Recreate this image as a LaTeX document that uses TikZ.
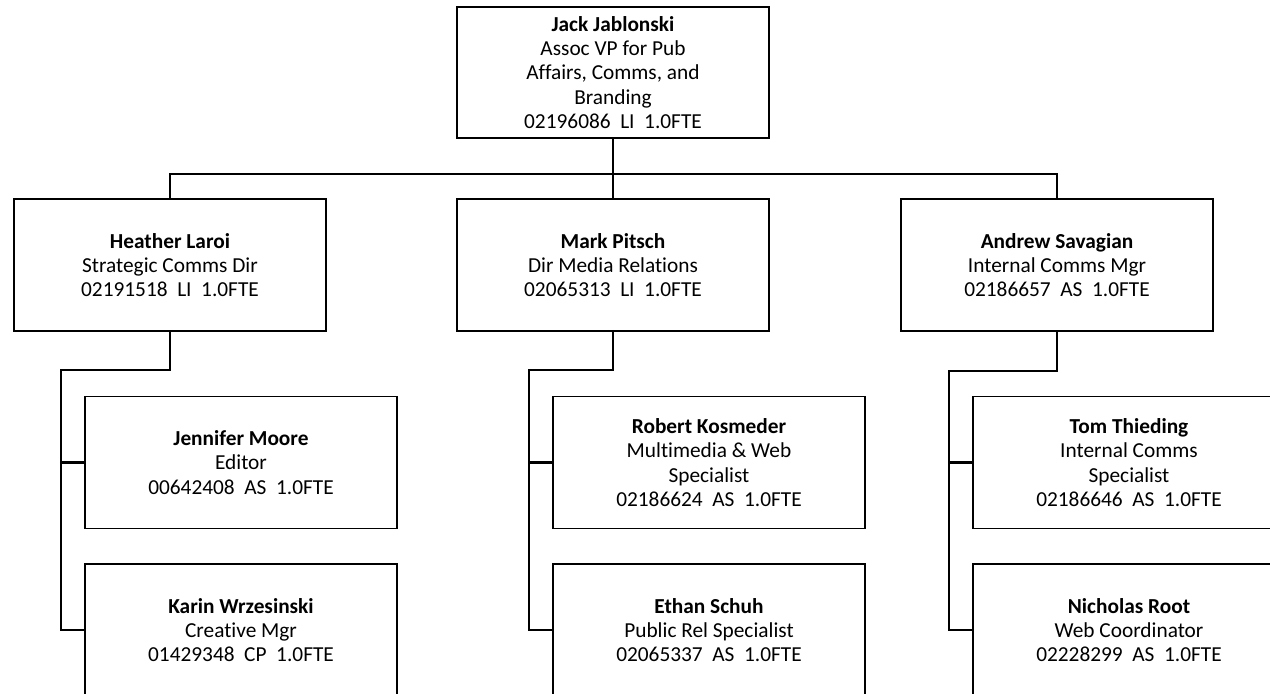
\documentclass[tikz,border=0pt]{standalone}
\usepackage{fontspec}
\setmainfont{Carlito}[Ligatures=NoCommon]
\newcommand{\twosp}{\hspace{0.45em}}
\begin{document}
\begin{tikzpicture}[x=0.75pt,y=-0.75pt,
  box/.style={draw, line width=0.9pt, rectangle, minimum width=234pt, minimum height=99pt,
    inner sep=0pt, align=center, font=\fontsize{16}{18.2}\selectfont},
  link/.style={line width=1.8pt}]
\useasboundingbox (0,0) rectangle (1270,693);

% top
\node[box, minimum height=98.25pt] (jack) at (613,72.5)
  {\textbf{Jack Jablonski}\\Assoc VP for Pub\\Affairs, Comms, and\\Branding\\02196086\twosp LI\twosp 1.0FTE};

% level 2
\node[box] (heather) at (170,265)
  {\textbf{Heather Laroi}\\Strategic Comms Dir\\02191518\twosp LI\twosp 1.0FTE};
\node[box] (mark) at (613,265)
  {\textbf{Mark Pitsch}\\Dir Media Relations\\02065313\twosp LI\twosp 1.0FTE};
\node[box] (andrew) at (1057,265)
  {\textbf{Andrew Savagian}\\Internal Comms Mgr\\02186657\twosp AS\twosp 1.0FTE};

% level 3
\node[box] (jennifer) at (241,462.5)
  {\textbf{Jennifer Moore}\\Editor\\00642408\twosp AS\twosp 1.0FTE};
\node[box] (karin) at (241,630)
  {\textbf{Karin Wrzesinski}\\Creative Mgr\\01429348\twosp CP\twosp 1.0FTE};
\node[box] (robert) at (709,462.5)
  {\textbf{Robert Kosmeder}\\Multimedia \& Web\\Specialist\\02186624\twosp AS\twosp 1.0FTE};
\node[box] (ethan) at (709,630)
  {\textbf{Ethan Schuh}\\Public Rel Specialist\\02065337\twosp AS\twosp 1.0FTE};
\node[box] (tom) at (1129,462.5)
  {\textbf{Tom Thieding}\\Internal Comms\\Specialist\\02186646\twosp AS\twosp 1.0FTE};
\node[box] (nicholas) at (1129,630)
  {\textbf{Nicholas Root}\\Web Coordinator\\02228299\twosp AS\twosp 1.0FTE};

% connectors
\coordinate (bus) at (613,174);
\draw[link] (jack.south) -- (mark.north);
\draw[link] (heather.north) -- (heather.north |- bus) -- (andrew.north |- bus) -- (andrew.north);

\coordinate (hel) at (61,370);
\coordinate (mel) at (529,370);
\coordinate (ael) at (949,371);
\draw[link] (heather.south) |- (hel) -- (hel |- karin.west) -- (karin.west);
\draw[link] (hel |- jennifer.west) -- (jennifer.west);
\draw[link] (mark.south) |- (mel) -- (mel |- ethan.west) -- (ethan.west);
\draw[link] (mel |- robert.west) -- (robert.west);
\draw[link] (andrew.south) |- (ael) -- (ael |- nicholas.west) -- (nicholas.west);
\draw[link] (ael |- tom.west) -- (tom.west);
\end{tikzpicture}
\end{document}
